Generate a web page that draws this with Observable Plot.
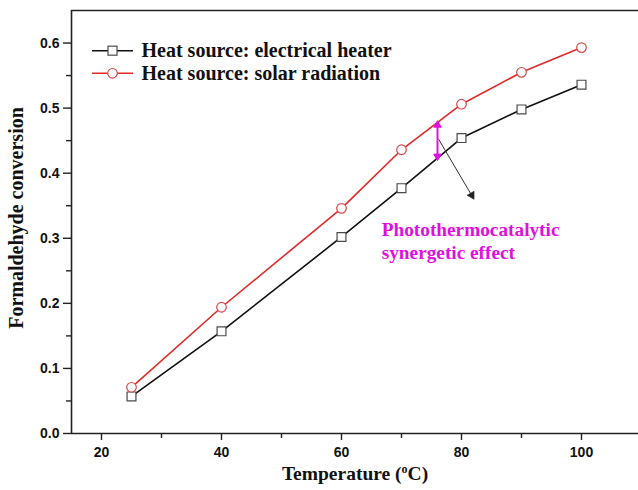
<!DOCTYPE html>
<html>
<head>
<meta charset="utf-8">
<script src="https://cdn.jsdelivr.net/npm/d3@7"></script>
<script src="https://cdn.jsdelivr.net/npm/@observablehq/plot@0.6"></script>
<style>
  html, body { margin: 0; padding: 0; background: #fff; }
  #chart { width: 638px; height: 490px; overflow: hidden; }
</style>
</head>
<body>
<div id="chart"></div>
<script>
// Reaction temperature (°C) and formaldehyde conversion for each heat source
const temps = [25, 40, 60, 70, 80, 90, 100];
const electrical = [0.057, 0.157, 0.302, 0.377, 0.454, 0.498, 0.536];
const solar = [0.071, 0.194, 0.346, 0.436, 0.506, 0.555, 0.593];
const seriesNames = ["Heat source: electrical heater", "Heat source: solar radiation"];

// Axis ticks
const xTicks = [20, 40, 60, 80, 100];
const xMinorTicks = [30, 50, 70, 90];
const yTicks = [0.0, 0.1, 0.2, 0.3, 0.4, 0.5, 0.6];
const yMinorTicks = [0.05, 0.15, 0.25, 0.35, 0.45, 0.55];

// Synergy annotation: gap between the two curves and a pointer to its label
const gapX = 76;
const gapLow = 0.422;
const gapHigh = 0.478;
const pointerFrom = [76.2, 0.452];
const pointerTo = [81.7, 0.366];
const noteLines = ["Photothermocatalytic", "synergetic effect"];
const noteAt = [66.7, 0.329];

const serif = "'Liberation Serif', 'Times New Roman', serif";
const sans = "'Liberation Sans', Arial, sans-serif";
const lineColors = ["#111111", "#e02a2a"];
const markColors = ["#4a4a4a", "#d64848"];
const magenta = "#e010e0";

const rowsE = temps.map((t, i) => ({t, v: electrical[i]}));
const rowsS = temps.map((t, i) => ({t, v: solar[i]}));
const gapMid = (gapLow + gapHigh) / 2;

const chart = Plot.plot({
  width: 638,
  height: 490,
  marginLeft: 71,
  marginRight: 0,
  marginTop: 10,
  marginBottom: 57,
  style: {fontFamily: sans, background: "#fff", overflow: "visible"},
  x: {domain: [15, 109.5]},
  y: {domain: [0, 0.65]},
  marks: [
    // frame: left, bottom, top
    Plot.ruleX([15], {stroke: "#222", strokeWidth: 1.6}),
    Plot.ruleY([0, 0.65], {stroke: "#222", strokeWidth: 1.6}),
    // axes
    Plot.axisX({ticks: xTicks, tickSize: 7, tickPadding: 7, fontSize: 14, fontWeight: "bold",
      tickFormat: d => d, stroke: "#222", strokeWidth: 1.4, label: null, color: "#111"}),
    Plot.axisX({ticks: xMinorTicks, tickSize: 5, text: null, stroke: "#222", strokeWidth: 1.4, label: null}),
    Plot.axisY({ticks: yTicks, tickSize: 8, tickPadding: 4, fontSize: 14, fontWeight: "bold",
      tickFormat: d3.format(".1f"), stroke: "#222", strokeWidth: 1.4, label: null, color: "#111"}),
    Plot.axisY({ticks: yMinorTicks, tickSize: 5, text: null, stroke: "#222", strokeWidth: 1.4, label: null}),
    // axis titles
    Plot.text(["Formaldehyde conversion"], {frameAnchor: "left", textAnchor: "middle", rotate: -90, dx: -55, dy: -4,
      fontSize: 20, fontWeight: "bold", fontFamily: serif, fill: "#111"}),
    Plot.text(["Temperature (oC)"], {frameAnchor: "bottom", dy: 46,
      fontSize: 19.5, fontWeight: "bold", fontFamily: serif, fill: "#111"}),
    // series
    Plot.line(rowsE, {x: "t", y: "v", stroke: lineColors[0], strokeWidth: 1.6}),
    Plot.line(rowsS, {x: "t", y: "v", stroke: lineColors[1], strokeWidth: 1.6}),
    Plot.dot(rowsE, {x: "t", y: "v", symbol: "square", r: 5, fill: "white", stroke: markColors[0], strokeWidth: 1.2}),
    Plot.dot(rowsS, {x: "t", y: "v", symbol: "circle", r: 4.8, fill: "white", stroke: markColors[1], strokeWidth: 1.2}),
    // double-headed gap arrow
    Plot.link([{x: gapX, y1: gapMid, y2: gapHigh - 0.006}, {x: gapX, y1: gapMid, y2: gapLow + 0.006}],
      {x1: "x", x2: "x", y1: "y1", y2: "y2", stroke: magenta, strokeWidth: 2}),
    Plot.dot([{x: gapX, y: gapHigh - 0.004, a: 0}, {x: gapX, y: gapLow + 0.004, a: 180}],
      {x: "x", y: "y", symbol: "triangle", r: 2.8, rotate: "a", fill: magenta, stroke: magenta, strokeWidth: 1}),
    // pointer from the gap to the label
    Plot.link([{x1: pointerFrom[0], y1: pointerFrom[1], x2: pointerTo[0], y2: pointerTo[1]}],
      {x1: "x1", y1: "y1", x2: "x2", y2: "y2", stroke: "#333", strokeWidth: 1}),
    Plot.dot([{x: pointerTo[0], y: pointerTo[1]}],
      {x: "x", y: "y", symbol: "triangle", r: 3, rotate: 150, fill: "#222", stroke: "#222", strokeWidth: 0.5}),
    Plot.text([noteLines.join("\n")], {x: () => noteAt[0], y: () => noteAt[1], textAnchor: "start", lineAnchor: "top",
      lineHeight: 1.2, fontSize: 19.3, fontWeight: "bold", fontFamily: serif, fill: magenta})
  ]
});

document.getElementById("chart").appendChild(chart);

// superscript degree mark in the x-axis title
const svg = d3.select(chart);
svg.selectAll("text").filter(function () { return this.textContent === "Temperature (oC)"; })
  .each(function () {
    const t = d3.select(this);
    t.text(null);
    t.append("tspan").text("Temperature (");
    t.append("tspan").attr("font-size", "12px").attr("dy", "-0.55em").text("o");
    t.append("tspan").attr("dy", "0.36em").text("C)");
  });

// legend
const legend = svg.append("g").attr("font-family", serif).attr("font-weight", "bold")
  .attr("font-size", 20).attr("text-anchor", "start");
const legendRows = [50.7, 73.3];
seriesNames.forEach((name, i) => {
  const y = legendRows[i];
  legend.append("line").attr("x1", 92).attr("x2", 133).attr("y1", y).attr("y2", y)
    .attr("stroke", lineColors[i]).attr("stroke-width", 1.6);
  if (i === 0) {
    legend.append("rect").attr("x", 108).attr("y", y - 4.5).attr("width", 9).attr("height", 9)
      .attr("fill", "white").attr("stroke", markColors[0]).attr("stroke-width", 1.2);
  } else {
    legend.append("circle").attr("cx", 112.5).attr("cy", y).attr("r", 4.8)
      .attr("fill", "white").attr("stroke", markColors[1]).attr("stroke-width", 1.2);
  }
  legend.append("text").attr("x", 141.5).attr("y", y).attr("dy", "0.33em").attr("fill", "#111").text(name);
});
</script>
</body>
</html>
